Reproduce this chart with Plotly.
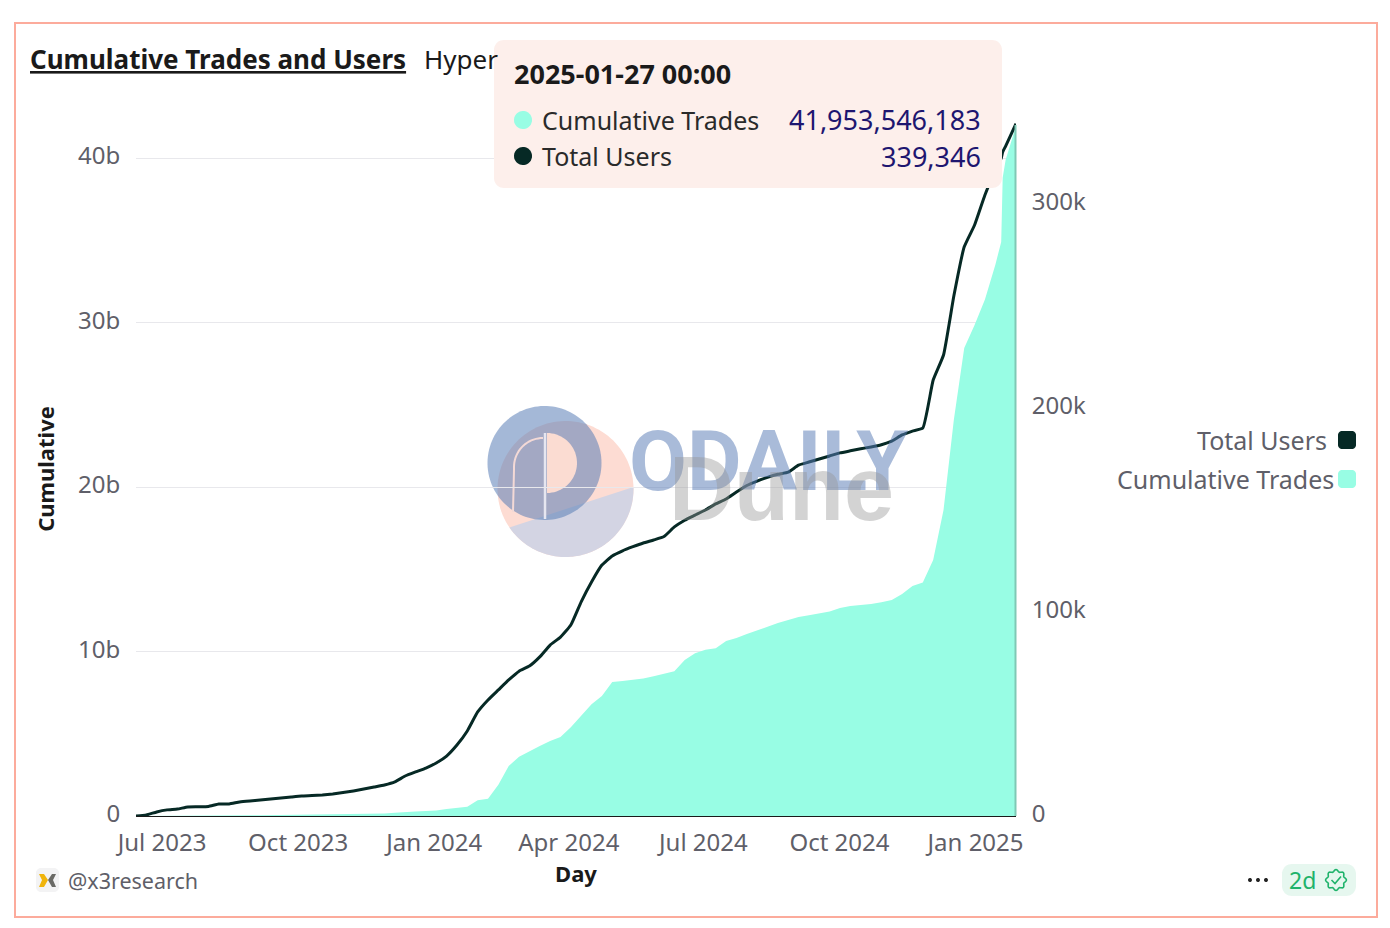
import numpy as np
import pandas as pd
import plotly.graph_objects as go

W, H = 1390, 928
L_PX, R_PX, T_PX, B_PX = 136, 1016, 122, 816

start_date = "2023-06-12"
end_date = "2025-01-27"
dates = list(pd.date_range(start_date, "2025-01-13", freq="7D")) + list(
    pd.to_datetime(["2025-01-17", "2025-01-18", "2025-01-20", "2025-01-27"])
)

total_users_k = [
    0, 0.5, 2, 3, 3.4, 4.4, 4.5, 4.7, 5.9, 5.9,
    6.9, 7.4, 7.8, 8.3, 8.8, 9.3, 9.8, 10, 10.3, 10.8,
    11.5, 12.3, 13.2, 14.2, 15.2, 16.7, 19.6, 21.6, 23.5, 26,
    29.4, 34.8, 41.7, 51, 56.9, 61.8, 66.7, 71, 73.5, 78,
    83.8, 87.7, 93.6, 105, 114.7, 123, 127.5, 130, 132, 133.8,
    135.3, 137, 141.7, 145, 147.5, 150, 153, 155.4, 158.8, 162,
    164.2, 166, 167.5, 168.6, 172, 173.5, 175, 176.5, 178, 179,
    180, 180.9, 182, 183.8, 186.8, 188.7, 190.2, 213.7, 226, 255,
    279, 289.7, 304.4, 316.7, 322.5, 325.5, 328.4, 339.346,
]
cumulative_trades_b = [
    0, 0, 0, 0, 0.005, 0.01, 0.015, 0.02, 0.025, 0.03,
    0.035, 0.04, 0.05, 0.055, 0.06, 0.065, 0.07, 0.075, 0.08, 0.085,
    0.09, 0.1, 0.11, 0.13, 0.15, 0.2, 0.25, 0.28, 0.3, 0.33,
    0.42, 0.5, 0.56, 0.95, 1.05, 1.9, 3.04, 3.6, 3.95, 4.25,
    4.56, 4.8, 5.4, 6.08, 6.8, 7.3, 8.15, 8.2, 8.27, 8.36,
    8.5, 8.63, 8.8, 9.48, 9.9, 10.1, 10.2, 10.64, 10.82, 11.06,
    11.3, 11.5, 11.73, 11.9, 12.1, 12.2, 12.3, 12.43, 12.64, 12.77,
    12.83, 12.89, 13, 13.13, 13.5, 13.98, 14.2, 15.56, 18.6, 24.1,
    28.45, 29.85, 31.4, 33.5, 34.9, 38.8, 39.9, 41.953546183,
]
x_tick_vals = ["2023-07-01", "2023-10-01", "2024-01-01", "2024-04-01", "2024-07-01", "2024-10-01", "2025-01-01"]
x_tick_text = ["Jul 2023", "Oct 2023", "Jan 2024", "Apr 2024", "Jul 2024", "Oct 2024", "Jan 2025"]
left_tick_vals = [0, 10e9, 20e9, 30e9, 40e9]
left_tick_text = ["0", "10b", "20b", "30b", "40b"]
right_tick_vals = [0, 100e3, 200e3, 300e3]
right_tick_text = ["0", "100k", "200k", "300k"]

MINT = "#98fde4"
DARK = "#062925"
GREY = "#5f5f69"
NAVY = "#1e1670"
FONT = "Noto Sans"


def X(p):
    return p / W


def Y(p):
    return 1 - p / H


def poly(points, close=True):
    s = "M " + " L ".join(f"{X(a):.5f},{Y(b):.5f}" for a, b in points)
    return s + (" Z" if close else "")


def arc(cx, cy, r, a0, a1, n=60):
    t = np.radians(np.linspace(a0, a1, n))
    return [(cx + r * np.cos(v), cy + r * np.sin(v)) for v in t]


def rrect(x0, y0, x1, y1, r):
    pts = arc(x1 - r, y0 + r, r, -90, 0, 10) + arc(x1 - r, y1 - r, r, 0, 90, 10)
    pts += arc(x0 + r, y1 - r, r, 90, 180, 10) + arc(x0 + r, y0 + r, r, 180, 270, 10)
    return poly(pts)


def shape(path, fill=None, line=None, width=0, layer="above"):
    return dict(
        type="path", xref="paper", yref="paper", path=path, layer=layer,
        fillcolor=fill or "rgba(0,0,0,0)",
        line=dict(color=line or "rgba(0,0,0,0)", width=width),
    )


def text(x, y, s, size, color=GREY, anchor="left", family=FONT, angle=0):
    nudge = {"left": -2, "right": 2, "center": 0}[anchor]
    return dict(
        x=X(x + nudge), y=Y(y), xref="paper", yref="paper", text=s, showarrow=False,
        xanchor=anchor, yanchor="middle", textangle=angle,
        font=dict(size=size, color=color, family=family),
    )


fig = go.Figure()
fig.add_trace(go.Scatter(
    x=dates, y=np.array(cumulative_trades_b) * 1e9, name="Cumulative Trades",
    mode="lines", fill="tozeroy", fillcolor=MINT, line=dict(width=0, color=MINT),
    yaxis="y",
))
fig.add_trace(go.Scatter(
    x=dates, y=np.array(total_users_k) * 1e3, name="Total Users",
    mode="lines", line=dict(width=3, color=DARK, shape="spline", smoothing=0.4), yaxis="y2",
))

# pink / lavender / blue logo discs, behind the traces
pink_c = (565.5, 489, 68)
split_a = np.degrees(np.arctan2(527 - 489, 510 - 565.5))
split_b = np.degrees(np.arctan2(487 - 489, 633 - 565.5))
shapes = [
    shape(poly(arc(*pink_c, 0, 360, 120)), fill="#fddcd3", layer="below"),
    shape(poly(arc(*pink_c, split_b, split_a, 80)), fill="#d3d4e3", layer="below"),
    shape(poly(arc(544.5, 463, 57, 0, 360, 120)), fill="rgba(90,125,182,0.55)", layer="below"),
    shape(poly(arc(547, 463, 30, -90, 90, 40)), fill="#fbdcd2", layer="below"),
    shape(poly([(513, 512), (514, 470)] + arc(543, 467, 29, 180, 270, 20), close=False),
          line="#f3d9d6", width=2, layer="below"),
    shape(poly([(545, 433), (545, 519)], close=False), line="#e6e6f0", width=2.5, layer="below"),
    # outer frame
    shape(poly([(15, 23), (1377, 23), (1377, 917), (15, 917)]), line="#fcab9c", width=2),
    # crosshair at the hovered day
    shape(poly([(1015.5, 125), (1015.5, 816)], close=False), line="#7fc9b5", width=2),
    # tooltip
    shape(rrect(494, 40, 1002, 188, 10), fill="#fdefeb"),
    shape(poly(arc(523, 120, 9, 0, 360, 40)), fill=MINT),
    shape(poly(arc(523, 156, 9, 0, 360, 40)), fill=DARK),
    # legend swatches
    shape(rrect(1338, 431, 1356, 449, 4), fill=DARK),
    shape(rrect(1338, 470, 1356, 488, 4), fill=MINT),
    # author icon
    shape(rrect(36, 868, 59, 892, 5), fill="#f3f3f4"),
    shape(poly([(39, 874), (44, 874), (48, 880), (44, 887), (39, 887), (42, 880)]), fill="#f0b40b"),
    shape(poly([(56, 874), (52, 874), (48, 880), (52, 887), (56, 887), (53, 880)]), fill="#6a6a66"),
    # menu dots
    shape(poly(arc(1250, 880, 2, 0, 360, 16)), fill="#222222"),
    shape(poly(arc(1258, 880, 2, 0, 360, 16)), fill="#222222"),
    shape(poly(arc(1266, 880, 2, 0, 360, 16)), fill="#222222"),
    # freshness badge
    shape(rrect(1282, 864, 1356, 896, 10), fill="#e6f7ef"),
]
seal_t = np.linspace(0, 2 * np.pi, 97)
seal_r = 9.4 + 1.0 * np.cos(8 * seal_t)
shapes.append(shape(poly([(1336 + r * np.cos(t), 880 + r * np.sin(t)) for r, t in zip(seal_r, seal_t)]),
                    line="#1fb36b", width=1.6))
shapes.append(shape(poly([(1331.5, 880), (1335, 883.5), (1341, 876.5)], close=False),
                    line="#1fb36b", width=1.6))

annotations = [
    text(30, 59, "<u><b>Cumulative Trades and Users</b></u>", 26, "#1a1a1a"),
    text(424, 59, "Hyper", 26, "#1a1a1a"),
    text(768, 462, "<b>ODAILY</b>", 84, "rgba(90,125,182,0.52)", "center", "Roboto"),
    text(781, 489, "<b>Dune</b>", 90, "rgba(150,150,150,0.42)", "center", "Liberation Sans"),
    text(514, 73, "<b>2025-01-27 00:00</b>", 27, "#1a1a1a"),
    text(542, 120, "Cumulative Trades", 25, "#2a2a2a"),
    text(542, 156, "Total Users", 25, "#2a2a2a"),
    text(981, 120, "41,953,546,183", 27, NAVY, "right"),
    text(981, 156, "339,346", 27, NAVY, "right"),
    text(1327, 440, "Total Users", 25, GREY, "right"),
    text(1117, 479, "Cumulative Trades", 25, GREY),
    text(68, 880, "@x3research", 21.5, GREY),
    text(1302.5, 880, "2d", 23, "#1fb36b", "center"),
]

fig.update_layout(
    width=W, height=H, margin=dict(l=0, r=0, t=0, b=0, pad=0),
    paper_bgcolor="white", plot_bgcolor="rgba(0,0,0,0)",
    showlegend=False, shapes=shapes, annotations=annotations,
    font=dict(family=FONT, color=GREY),
    xaxis=dict(
        domain=[X(L_PX), X(R_PX)], range=[start_date, end_date], type="date",
        automargin=False,
        tickmode="array", tickvals=x_tick_vals, ticktext=x_tick_text,
        tickfont=dict(size=24, color=GREY), ticks="outside", ticklen=5,
        tickcolor="rgba(0,0,0,0)", ticklabelshift=-2, showgrid=False,
        showline=True, linecolor="#1a1a1a", linewidth=1, zeroline=False,
        title=dict(text="<b>Day</b>", font=dict(size=22, color="#1a1a1a"), standoff=8),
    ),
    yaxis=dict(
        domain=[Y(B_PX), Y(T_PX)], range=[0, 42.19e9], automargin=False,
        tickmode="array", tickvals=left_tick_vals, ticktext=left_tick_text,
        tickfont=dict(size=24, color=GREY), ticks="outside", ticklen=10,
        tickcolor="rgba(0,0,0,0)", ticklabelshift=-2,
        showgrid=True, gridcolor="#e8e8ec", gridwidth=1, zeroline=False,
        title=dict(text="<b>Cumulative</b>", font=dict(size=22, color="#1a1a1a"), standoff=17),
    ),
    yaxis2=dict(
        overlaying="y", side="right", anchor="x", range=[0, 340.2e3], automargin=False,
        tickmode="array", tickvals=right_tick_vals, ticktext=right_tick_text,
        tickfont=dict(size=24, color=GREY), ticks="outside", ticklen=10,
        tickcolor="rgba(0,0,0,0)", ticklabelshift=-2,
        showgrid=False, zeroline=False,
    ),
)

fig.write_html("out.html", config=dict(displayModeBar=False),
               post_script="document.body.style.margin='0';document.documentElement.style.overflow='hidden';")
